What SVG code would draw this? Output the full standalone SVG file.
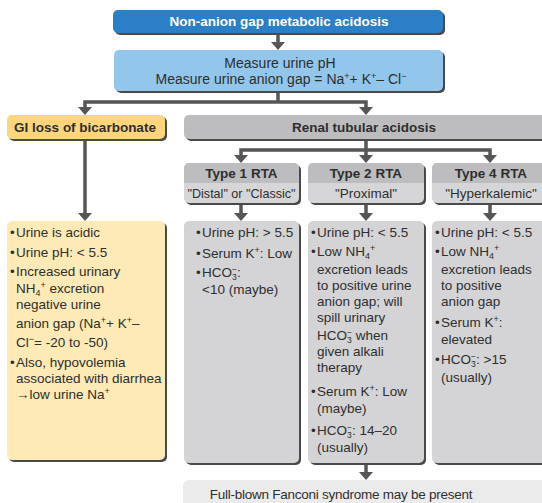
<svg xmlns="http://www.w3.org/2000/svg" xmlns:xlink="http://www.w3.org/1999/xlink" width="542" height="503" viewBox="0 0 542 503">
<style>
.sh{fill:#4a4a4a}
.t{font-family:"Liberation Sans",Arial,sans-serif;font-size:13.5px;fill:#2e2e2e}
.c{text-anchor:middle}
.b{font-weight:bold;font-size:13.5px}
.m{font-size:14px}
.w{fill:#ffffff}
.sp{font-size:9px}
.ss{font-size:8.5px}
.ln{fill:none;stroke:#565656;stroke-width:3.5}
.ah{fill:#565656}
</style>
<defs>
<path id="ah" d="M-7,-8 L7,-8 L0,0 Z"/>
</defs>
<rect width="542" height="503" fill="#ffffff"/>

<g id="connectors">
<path class="ln" d="M278,33 V43"/>
<path class="ln" d="M278,91 V102 M85,102 H366 M85,100.25 V108 M366,100.25 V108"/>
<path class="ln" d="M85,139 V214"/>
<path class="ln" d="M366,139 V150 M241,150 H490 M241,148.25 V156 M366,150 V156 M490,148.25 V156"/>
<path class="ln" d="M241,203 V214 M366,203 V214 M490,203 V214"/>
<path class="ln" d="M366,463 V473"/>
<use class="ah" xlink:href="#ah" x="278" y="50"/>
<use class="ah" xlink:href="#ah" x="85" y="115"/>
<use class="ah" xlink:href="#ah" x="366" y="115"/>
<use class="ah" xlink:href="#ah" x="85" y="221"/>
<use class="ah" xlink:href="#ah" x="241" y="163"/>
<use class="ah" xlink:href="#ah" x="366" y="163"/>
<use class="ah" xlink:href="#ah" x="490" y="163"/>
<use class="ah" xlink:href="#ah" x="241" y="221"/>
<use class="ah" xlink:href="#ah" x="366" y="221"/>
<use class="ah" xlink:href="#ah" x="490" y="221"/>
<use class="ah" xlink:href="#ah" x="366" y="480"/>
</g>

<g id="title">
<rect class="sh" x="115" y="12" width="330" height="23" rx="5"/>
<rect x="113" y="10" width="330" height="23" rx="5" fill="#2a7fc6"/>
<text class="t b c w" x="279" y="26">Non-anion gap metabolic acidosis</text>
</g>

<g id="measure">
<rect class="sh" x="116" y="52" width="329" height="41" rx="5"/>
<rect x="114" y="50" width="329" height="41" rx="5" fill="#92c6eb"/>
<text class="t m c" x="280" y="68">Measure urine pH</text>
<text class="t m c" x="281" y="84">Measure urine anion gap = Na<tspan class="sp" dy="-5">+</tspan><tspan dy="5">+ K</tspan><tspan class="sp" dy="-5">+</tspan><tspan dy="5">– Cl</tspan><tspan class="sp" dy="-5">−</tspan></text>
</g>

<g id="gi-loss">
<rect class="sh" x="9" y="117" width="158" height="24" rx="5"/>
<rect x="7" y="115" width="158" height="24" rx="5" fill="#fdd67c"/>
<text class="t b c" x="85" y="132">GI loss of bicarbonate</text>
</g>

<g id="rta">
<rect class="sh" x="186" y="117" width="370" height="24" rx="5"/>
<rect x="184" y="115" width="370" height="24" rx="5" fill="#bdbdbf"/>
<text class="t b c" x="364" y="132">Renal tubular acidosis</text>
</g>

<g id="type1">
<rect class="sh" x="186" y="165" width="115" height="40" rx="5"/>
<rect x="184" y="163" width="115" height="40" rx="5" fill="#d6d6d8"/>
<path d="M184,183 V168 a5,5 0 0 1 5,-5 H294 a5,5 0 0 1 5,5 V183 Z" fill="#bdbdbf"/>
<text class="t b c" x="241.5" y="178">Type 1 RTA</text>
<text class="t c" x="241.5" y="198" textLength="108" lengthAdjust="spacingAndGlyphs">"Distal" or "Classic"</text>
</g>

<g id="type2">
<rect class="sh" x="310" y="165" width="116" height="40" rx="5"/>
<rect x="308" y="163" width="116" height="40" rx="5" fill="#d6d6d8"/>
<path d="M308,183 V168 a5,5 0 0 1 5,-5 H419 a5,5 0 0 1 5,5 V183 Z" fill="#bdbdbf"/>
<text class="t b c" x="366" y="178">Type 2 RTA</text>
<text class="t c" x="366" y="198">"Proximal"</text>
</g>

<g id="type4">
<rect class="sh" x="434" y="165" width="120" height="40" rx="5"/>
<rect x="432" y="163" width="120" height="40" rx="5" fill="#d6d6d8"/>
<path d="M432,183 V168 a5,5 0 0 1 5,-5 H547 a5,5 0 0 1 5,5 V183 Z" fill="#bdbdbf"/>
<text class="t b c" x="491" y="178">Type 4 RTA</text>
<text class="t c" x="491" y="198">"Hyperkalemic"</text>
</g>

<g id="gi-details">
<rect class="sh" x="9" y="223" width="158" height="239" rx="5"/>
<rect x="7" y="221" width="158" height="239" rx="5" fill="#fdeab6"/>
<text class="t" x="10" y="237">•</text><text class="t" x="16" y="237">Urine is acidic</text>
<text class="t" x="10" y="257">•</text><text class="t" x="16" y="257">Urine pH: &lt; 5.5</text>
<text class="t" x="10" y="276">•</text><text class="t" x="16" y="276">Increased urinary</text>
<text class="t" x="16" y="293">NH<tspan class="sp" dy="3">4</tspan><tspan class="sp" dy="-8">+</tspan><tspan dy="5"> excretion</tspan></text>
<text class="t" x="16" y="309">negative urine</text>
<text class="t" x="16" y="328">anion gap (Na<tspan class="sp" dy="-5">+</tspan><tspan dy="5">+ K</tspan><tspan class="sp" dy="-5">+</tspan><tspan dy="5">–</tspan></text>
<text class="t" x="16" y="347">Cl<tspan class="sp" dy="-5">−</tspan><tspan dy="5">= -20 to -50)</tspan></text>
<text class="t" x="10" y="367">•</text><text class="t" x="16" y="367">Also, hypovolemia</text>
<text class="t" x="16" y="383">associated with diarrhea</text>
<text class="t" x="16" y="399">→low urine Na<tspan class="sp" dy="-5">+</tspan></text>
</g>

<g id="type1-details">
<rect class="sh" x="186" y="223" width="115" height="242" rx="5"/>
<rect x="184" y="221" width="115" height="242" rx="5" fill="#d4d4d6"/>
<text class="t" x="196" y="237">•</text><text class="t" x="202" y="237">Urine pH: &gt; 5.5</text>
<text class="t" x="196" y="258">•</text><text class="t" x="202" y="258">Serum K<tspan class="sp" dy="-5">+</tspan><tspan dy="5">: Low</tspan></text>
<text class="t" x="196" y="277">•</text><text class="t" x="202" y="277">HCO<tspan class="ss" dy="3">3</tspan><tspan class="ss" dx="-4.7" dy="-8">−</tspan><tspan dy="5">:</tspan></text>
<text class="t" x="202" y="294">&lt;10 (maybe)</text>
</g>

<g id="type2-details">
<rect class="sh" x="310" y="223" width="116" height="242" rx="5"/>
<rect x="308" y="221" width="116" height="242" rx="5" fill="#d4d4d6"/>
<text class="t" x="311" y="237">•</text><text class="t" x="317" y="237">Urine pH: &lt; 5.5</text>
<text class="t" x="311" y="256">•</text><text class="t" x="317" y="256">Low NH<tspan class="sp" dy="3">4</tspan><tspan class="sp" dy="-8">+</tspan></text>
<text class="t" x="317" y="274">excretion leads</text>
<text class="t" x="317" y="290">to positive urine</text>
<text class="t" x="317" y="306">anion gap; will</text>
<text class="t" x="317" y="322">spill urinary</text>
<text class="t" x="317" y="340">HCO<tspan class="ss" dy="3">3</tspan><tspan class="ss" dx="-4.7" dy="-8">−</tspan><tspan dy="5"> when</tspan></text>
<text class="t" x="317" y="356">given alkali</text>
<text class="t" x="317" y="372">therapy</text>
<text class="t" x="311" y="396">•</text><text class="t" x="317" y="396">Serum K<tspan class="sp" dy="-5">+</tspan><tspan dy="5">: Low</tspan></text>
<text class="t" x="317" y="413">(maybe)</text>
<text class="t" x="311" y="435">•</text><text class="t" x="317" y="435">HCO<tspan class="ss" dy="3">3</tspan><tspan class="ss" dx="-4.7" dy="-8">−</tspan><tspan dy="5">: 14–20</tspan></text>
<text class="t" x="317" y="452">(usually)</text>
</g>

<g id="type4-details">
<rect class="sh" x="434" y="223" width="120" height="242" rx="5"/>
<rect x="432" y="221" width="120" height="242" rx="5" fill="#d4d4d6"/>
<text class="t" x="435" y="237">•</text><text class="t" x="441" y="237">Urine pH: &lt; 5.5</text>
<text class="t" x="435" y="256">•</text><text class="t" x="441" y="256">Low NH<tspan class="sp" dy="3">4</tspan><tspan class="sp" dy="-8">+</tspan></text>
<text class="t" x="441" y="274">excretion leads</text>
<text class="t" x="441" y="290">to positive</text>
<text class="t" x="441" y="306">anion gap</text>
<text class="t" x="435" y="327">•</text><text class="t" x="441" y="327">Serum K<tspan class="sp" dy="-5">+</tspan><tspan dy="5">:</tspan></text>
<text class="t" x="441" y="344">elevated</text>
<text class="t" x="435" y="364">•</text><text class="t" x="441" y="364">HCO<tspan class="ss" dy="3">3</tspan><tspan class="ss" dx="-4.7" dy="-8">−</tspan><tspan dy="5">: &gt;15</tspan></text>
<text class="t" x="441" y="382">(usually)</text>
</g>

<g id="fanconi">
<rect x="183" y="480" width="370" height="30" rx="6" fill="#ebebeb"/>
<text class="t c" x="341" y="499" letter-spacing="-0.25">Full-blown Fanconi syndrome may be present</text>
</g>
</svg>
